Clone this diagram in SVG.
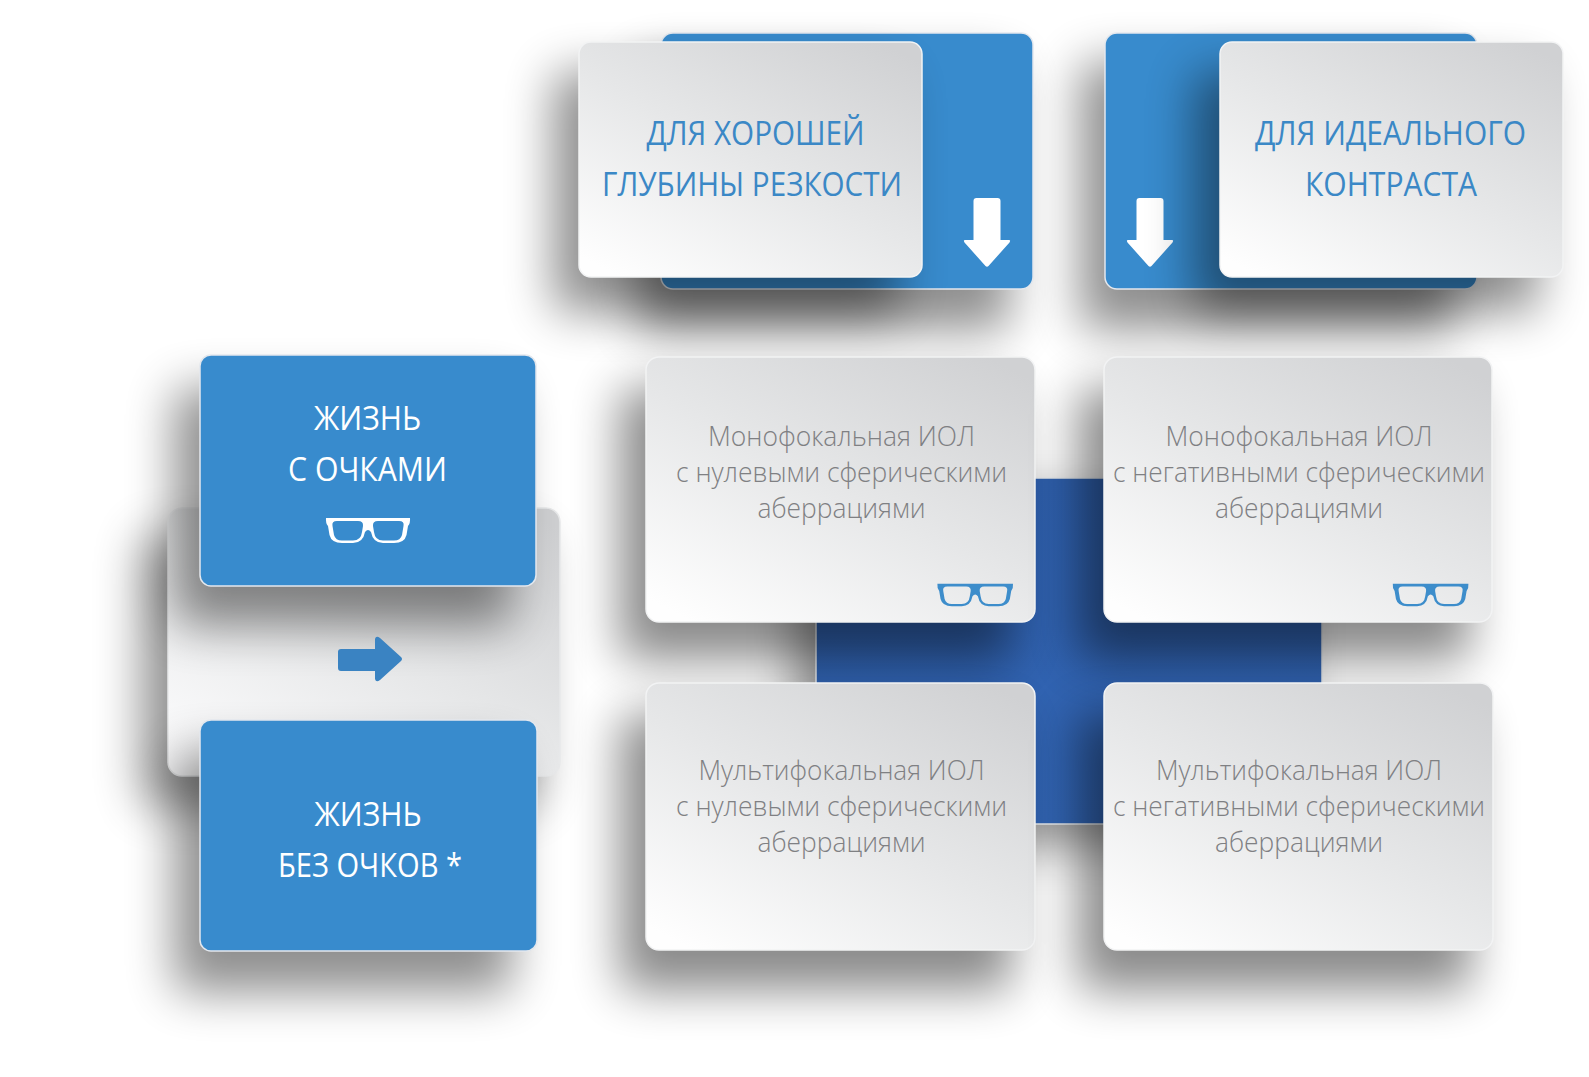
<svg xmlns="http://www.w3.org/2000/svg" xmlns:xlink="http://www.w3.org/1999/xlink" width="1589" height="1077" viewBox="0 0 1589 1077">
<style>
text{font-family:"Open Sans","Noto Sans","Liberation Sans",sans-serif;text-anchor:middle}
.h{font-size:32px;font-weight:400;fill:#3b88c6}
.w{font-size:32px;font-weight:400;fill:#fff}
.g{font-size:28px;font-weight:300;fill:#7f8083}
.card{fill:url(#cardGrad);stroke:#f2f3f4;stroke-width:1.500}
.blue{fill:#388bcd;stroke:#e4e8ee;stroke-width:1.500}
.sh{fill:#000;filter:url(#soft)}
</style>
<defs>
<linearGradient id="cardGrad" x1=".12" y1="1" x2=".88" y2="0"><stop offset="0" stop-color="#fefefe"/><stop offset="0.5" stop-color="#e6e7e8"/><stop offset="1" stop-color="#d0d1d3"/></linearGradient>
<linearGradient id="backGrad" x1=".1" y1="1" x2=".9" y2="0"><stop offset="0" stop-color="#fcfcfd"/><stop offset="0.5" stop-color="#e6e7e8"/><stop offset="1" stop-color="#cfd0d2"/></linearGradient>
<linearGradient id="crossGrad" x1="0" y1="0" x2="0" y2="1"><stop offset="0" stop-color="#2f60ad"/><stop offset="1" stop-color="#3265b4"/></linearGradient>
<filter id="soft" x="-40%" y="-40%" width="180%" height="180%"><feGaussianBlur stdDeviation="24"/></filter>
<path id="glasses" fill-rule="evenodd" d="M0 1 L84 1 Q84.500 6 82 9 L80.500 18 Q78.500 26 68 26 L57 26 Q47 26 45 15 Q42 11 39 15 Q37 26 27 26 L16 26 Q5.500 26 3.500 18 L2 9 Q-.5 6 0 1 Z M11 4 Q5.500 4 6.500 9 L8 18 Q9.500 23.500 16 23.500 L27 23.500 Q35 23.500 36 15 L37 9 Q37.500 4 32 4 Z M52 4 Q46.500 4 47 9 L48 15 Q49 23.500 57 23.500 L68 23.500 Q74.500 23.500 76 18 L77.500 9 Q78.500 4 73 4 Z"/>
<path id="arrowDown" d="M-10.500 -69 Q-13.500 -69 -13.500 -66 L-13.500 -27 L-22 -27 Q-24 -27 -22.500 -24.500 L-1.500 -1 Q0 .5 1.500 -1 L22.500 -24.500 Q24 -27 22 -27 L13.500 -27 L13.500 -66 Q13.500 -69 10.500 -69 Z"/>
</defs>
<rect width="1589" height="1077" fill="#fff"/>

<g id="node-back">
<rect class="sh" x="142" y="535" width="395" height="270" rx="12" opacity=".44"/>
<rect x="168" y="508" width="392" height="268" rx="14" fill="url(#backGrad)" stroke="#e8e9ea" stroke-width="1.500"/>
</g>
<g id="node-zhizn-s-ochkami">
<rect class="sh" x="174" y="388" width="338" height="238" rx="12" opacity=".44"/>
<rect class="blue" x="200" y="355" width="336" height="231" rx="11"/>
<text class="w" x="367.500" y="430" textLength="107" lengthAdjust="spacingAndGlyphs">ЖИЗНЬ</text>
<text class="w" x="367.500" y="481" textLength="159" lengthAdjust="spacingAndGlyphs">С ОЧКАМИ</text>
<use href="#glasses" x="326" y="517" fill="#fff"/>
</g>
<g id="node-zhizn-bez-ochkov">
<rect class="sh" x="174" y="752" width="338" height="240" rx="12" opacity=".44"/>
<rect class="blue" x="200" y="720" width="337" height="231" rx="11"/>
<text class="w" x="368" y="826" textLength="107" lengthAdjust="spacingAndGlyphs">ЖИЗНЬ</text>
<text class="w" x="370" y="877" textLength="184" lengthAdjust="spacingAndGlyphs">БЕЗ ОЧКОВ *</text>
</g>

<g id="node-top-blue-1">
<rect class="sh" x="636" y="62" width="374" height="268" rx="12" opacity=".44"/>
<rect class="blue" x="661" y="33" width="372" height="256" rx="12"/>
<use href="#arrowDown" x="987" y="267" fill="#fff"/>
</g>
<g id="node-top-grey-1">
<rect class="sh" x="553" y="72" width="345" height="240" rx="12" opacity=".44"/>
<rect class="card" x="579" y="42" width="343" height="235" rx="12"/>
<text class="h" x="755.500" y="144.500" textLength="218" lengthAdjust="spacingAndGlyphs">ДЛЯ ХОРОШЕЙ</text>
<text class="h" x="752" y="195.500" textLength="300" lengthAdjust="spacingAndGlyphs">ГЛУБИНЫ РЕЗКОСТИ</text>
</g>
<g id="node-top-blue-2">
<rect class="sh" x="1080" y="62" width="374" height="268" rx="12" opacity=".44"/>
<rect class="blue" x="1105" y="33" width="372" height="256" rx="12"/>
<use href="#arrowDown" x="1150" y="267" fill="#fff"/>
</g>
<g id="node-top-grey-2">
<rect class="sh" x="1194" y="72" width="345" height="240" rx="12" opacity=".44"/>
<rect class="card" x="1220" y="42" width="343" height="235" rx="12"/>
<text class="h" x="1390.500" y="144.500" textLength="271" lengthAdjust="spacingAndGlyphs">ДЛЯ ИДЕАЛЬНОГО</text>
<text class="h" x="1391" y="195.500" textLength="172" lengthAdjust="spacingAndGlyphs">КОНТРАСТА</text>
</g>

<g id="node-cross">
<rect class="sh" x="796" y="500" width="500" height="345" rx="6" opacity=".42"/>
<rect x="816" y="478" width="506" height="346" fill="url(#crossGrad)" stroke="#e9ebee" stroke-width="1.500"/>
</g>
<g id="node-mono-zero">
<rect class="sh" x="620" y="388" width="392" height="272" rx="12" opacity=".46"/>
<rect class="card" x="646" y="357" width="389" height="265" rx="13"/>
<text class="g" x="841.500" y="445.500" textLength="267" lengthAdjust="spacingAndGlyphs">Монофокальная ИОЛ</text>
<text class="g" x="841.500" y="481.500" textLength="331" lengthAdjust="spacingAndGlyphs">с нулевыми сферическими</text>
<text class="g" x="841.500" y="517.500" textLength="168" lengthAdjust="spacingAndGlyphs">аберрациями</text>
<use href="#glasses" x="936" y="582" transform="translate(95 59) scale(.9)" fill="#3d8dcb"/>
</g>
<g id="node-mono-neg">
<rect class="sh" x="1078" y="388" width="392" height="272" rx="12" opacity=".46"/>
<rect class="card" x="1104" y="357" width="388" height="265" rx="13"/>
<text class="g" x="1299" y="445.500" textLength="267" lengthAdjust="spacingAndGlyphs">Монофокальная ИОЛ</text>
<text class="g" x="1299" y="481.500" textLength="372" lengthAdjust="spacingAndGlyphs">с негативными сферическими</text>
<text class="g" x="1299" y="517.500" textLength="168" lengthAdjust="spacingAndGlyphs">аберрациями</text>
<use href="#glasses" x="1392" y="582" transform="translate(140 59) scale(.9)" fill="#3d8dcb"/>
</g>
<g id="node-multi-zero">
<rect class="sh" x="620" y="714" width="392" height="276" rx="12" opacity=".46"/>
<rect class="card" x="646" y="683" width="389" height="267" rx="13"/>
<text class="g" x="841.500" y="779.500" textLength="286" lengthAdjust="spacingAndGlyphs">Мультифокальная ИОЛ</text>
<text class="g" x="841.500" y="815.500" textLength="331" lengthAdjust="spacingAndGlyphs">с нулевыми сферическими</text>
<text class="g" x="841.500" y="851.500" textLength="168" lengthAdjust="spacingAndGlyphs">аберрациями</text>
</g>
<g id="node-multi-neg">
<rect class="sh" x="1078" y="714" width="393" height="276" rx="12" opacity=".46"/>
<rect class="card" x="1104" y="683" width="389" height="267" rx="13"/>
<text class="g" x="1299" y="779.500" textLength="286" lengthAdjust="spacingAndGlyphs">Мультифокальная ИОЛ</text>
<text class="g" x="1299" y="815.500" textLength="372" lengthAdjust="spacingAndGlyphs">с негативными сферическими</text>
<text class="g" x="1299" y="851.500" textLength="168" lengthAdjust="spacingAndGlyphs">аберрациями</text>
</g>

<g id="connectors">
<path d="M341 649 L375 649 L375 639 Q376 635 380 638 L401 657 Q403 659 401 661 L380 680 Q376 683 375 679 L375 671 L341 671 Q338 671 338 668 L338 652 Q338 649 341 649 Z" fill="#3a83c2"/>
</g>
</svg>
